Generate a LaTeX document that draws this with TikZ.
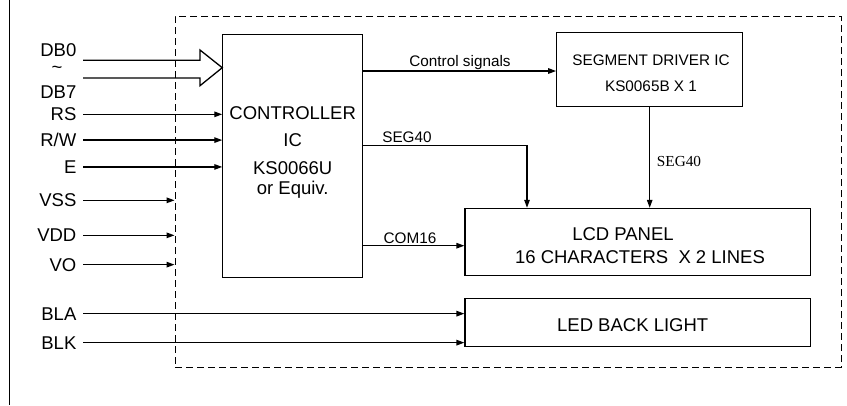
\documentclass[tikz,border=0pt]{standalone}
\usepackage{fontspec}
\setmainfont{Liberation Sans}
\newfontfamily\serifx{Liberation Serif}
\usetikzlibrary{arrows.meta}
\begin{document}
\begin{tikzpicture}[x=1pt,y=-1pt,
  line width=1.3pt,
  box/.style={draw,line width=1.1pt,inner sep=0pt},
  big/.style={font=\fontsize{18.5}{21}\selectfont,inner sep=0pt},
  small/.style={font=\fontsize{15.3}{18}\selectfont,inner sep=0pt},
  pin/.style={big,anchor=base east},
  arr/.style={-{Triangle[length=8pt,width=5.5pt]}}
]
\useasboundingbox (0,0) rectangle (847,405);
\draw[line width=0.7pt] (9,0) -- (9,405);
\node[draw,dash pattern=on 7pt off 4pt,line width=0.9pt,minimum width=666pt,minimum height=351pt,inner sep=0pt] (module) at (508,191.5) {};
% blocks
\node[box,minimum width=140pt,minimum height=243.5pt] (ctrl) at (292.8,156) {};
\node[big,anchor=base] (c1) at (292.7,119.3) {CONTROLLER};
\node[big,anchor=base] (c2) at (292.7,146.5) {IC};
\node[big,anchor=base] (c3) at (292.7,174) {KS0066U};
\node[big,anchor=base] (c4) at (292.7,194.5) {or Equiv.};
\node[box,minimum width=186pt,minimum height=74.4pt] (seg) at (649.7,69.5) {};
\node[small,anchor=base] (s1) at (651,65.7) {SEGMENT DRIVER IC};
\node[small,anchor=base] (s2) at (651,91) {KS0065B X 1};
\node[box,minimum width=345.7pt,minimum height=66.7pt] (lcd) at (637.8,241.7) {};
\node[big,anchor=base] (l1) at (623,240.7) {LCD PANEL};
\node[big,anchor=base] (l2) at (640,263.3) {16 CHARACTERS\ \ X 2 LINES};
\node[box,minimum width=345.7pt,minimum height=48.4pt] (led) at (637.8,322.5) {};
\node[big,anchor=base] (b1) at (632.7,331) {LED BACK LIGHT};
% pins
\node[pin] (db0) at (77,56.7) {DB0};
\node[big] (tilde) at (57,70) {\textasciitilde};
\node[pin] (db7) at (77,98.3) {DB7};
\node[pin] (rs) at (77,120.7) {RS};
\node[pin] (rw) at (77,146.7) {R/W};
\node[pin] (e) at (77,173.3) {E};
\node[pin] (vss) at (77,206.7) {VSS};
\node[pin] (vdd) at (77,241.7) {VDD};
\node[pin] (vo) at (77,271) {VO};
\node[pin] (bla) at (77,320) {BLA};
\node[pin] (blk) at (77,349) {BLK};
% data bus hollow arrow
\coordinate (dbtip) at (ctrl.west |- 0,67.7);
\draw[line width=1.3pt,line join=miter] (83,60.3) -- (200,60.3) -- (200,50) -- (dbtip) -- (200,85.7) -- (200,78) -- (83,78);
% control inputs
\foreach \p in {rs,rw,e} \draw[arr] ([xshift=6pt]\p.east) -- (\p.east -| ctrl.west);
\foreach \p in {vss,vdd,vo} \draw[arr] ([xshift=6pt]\p.east) -- (\p.east -| module.west);
\foreach \p in {bla,blk} \draw[arr] ([xshift=6pt]\p.east) -- (\p.east -| led.west);
% internal connections
\draw[arr] (ctrl.east |- 0,71) -- (seg.west |- 0,71);
\node[small,anchor=base] (cs) at (460,66.7) {Control signals};
\coordinate (segturn) at (527,145.3);
\draw[arr] (ctrl.east |- segturn) -- (segturn) -- (segturn |- lcd.north);
\node[small,anchor=base] (seg40a) at (407,142.2) {SEG40};
\draw[arr] (seg.south) -- (seg.south |- lcd.north);
\node[small,anchor=base,font=\serifx\fontsize{15.3}{18}\selectfont] (seg40b) at (679,166.7) {SEG40};
\draw[arr] (ctrl.east |- 0,245.7) -- (lcd.west |- 0,245.7);
\node[small,anchor=base] (com) at (410,243.5) {COM16};
\end{tikzpicture}
\end{document}
